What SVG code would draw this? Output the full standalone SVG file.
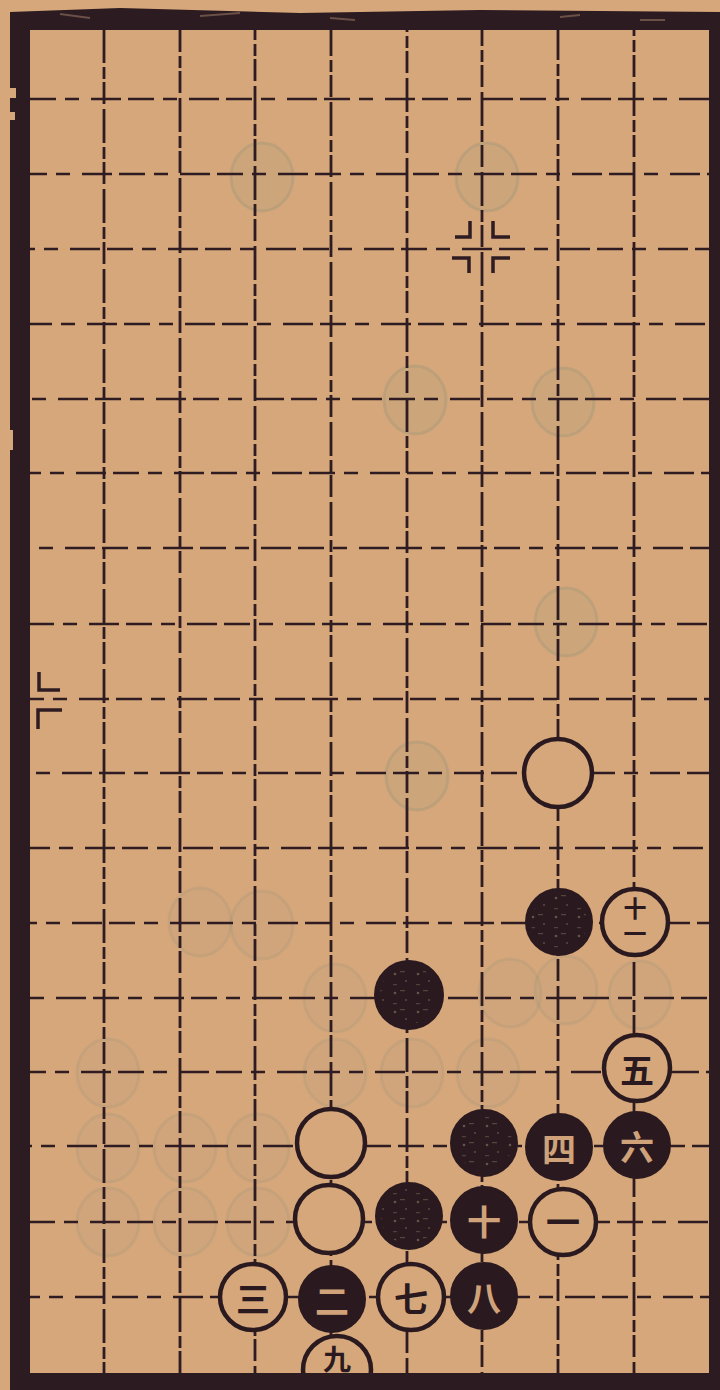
<svg xmlns="http://www.w3.org/2000/svg" width="720" height="1390" viewBox="0 0 720 1390">
<style>
.bg{fill:#d6a77a}
.v{stroke:#2e1c22;stroke-width:2.8;fill:none;stroke-dasharray:34 4 12 3 22 5}
.h{stroke:#2e1c22;stroke-width:2.6;fill:none;stroke-dasharray:26 9 14 12 30 7}
.frame{fill:#2c1b21}
.ghost{fill:#9f9a84;fill-opacity:0.14;stroke:#8f937c;stroke-opacity:0.3;stroke-width:3}
.ghost2{fill:#9f9a84;fill-opacity:0.09;stroke:#8f937c;stroke-opacity:0.2;stroke-width:3}
.w{fill:#d6a77a;stroke:#2a1a20;stroke-width:4.5}
.b{fill:#2a1a20;stroke:#2a1a20;stroke-width:2}
.speck{fill:url(#speck)}
.mark{stroke:#2e1c22;stroke-width:3.5;fill:none}
.lw{font-family:"Noto Sans CJK SC","Noto Sans CJK JP",sans-serif;font-weight:bold;font-size:34px;fill:#2a1a20;text-anchor:middle;dominant-baseline:central}
.lb{font-family:"Noto Sans CJK SC","Noto Sans CJK JP",sans-serif;font-weight:bold;font-size:34px;fill:#cfa27a;text-anchor:middle;dominant-baseline:central}
.vert{writing-mode:vertical-rl;text-orientation:upright;font-size:23px;letter-spacing:2px}
</style>
<defs>
<pattern id="speck" width="23" height="19" patternUnits="userSpaceOnUse">
<circle cx="4" cy="5" r="1.3" fill="#8a7a62" fill-opacity="0.6"/>
<circle cx="15" cy="12" r="1" fill="#8a7a62" fill-opacity="0.5"/>
<rect x="9" y="2" width="5" height="1.2" fill="#8a7a62" fill-opacity="0.45"/>
<rect x="2" y="15" width="4" height="1.2" fill="#8a7a62" fill-opacity="0.4"/>
</pattern>
</defs>
<rect class="bg" x="0" y="0" width="720" height="1390"/>

<g id="ghosts">
<ellipse class="ghost" cx="262" cy="177" rx="31" ry="34"/>
<ellipse class="ghost" cx="487" cy="177" rx="31" ry="34"/>
<ellipse class="ghost" cx="415" cy="400" rx="31" ry="34"/>
<ellipse class="ghost" cx="563" cy="402" rx="31" ry="34"/>
<ellipse class="ghost" cx="566" cy="622" rx="31" ry="34"/>
<ellipse class="ghost" cx="417" cy="776" rx="31" ry="34"/>
<ellipse class="ghost2" cx="200" cy="922" rx="31" ry="34"/>
<ellipse class="ghost2" cx="262" cy="925" rx="31" ry="34"/>
<ellipse class="ghost2" cx="335" cy="998" rx="31" ry="34"/>
<ellipse class="ghost2" cx="510" cy="993" rx="31" ry="34"/>
<ellipse class="ghost2" cx="566" cy="990" rx="31" ry="34"/>
<ellipse class="ghost2" cx="640" cy="995" rx="31" ry="34"/>
<ellipse class="ghost2" cx="108" cy="1073" rx="31" ry="34"/>
<ellipse class="ghost2" cx="335" cy="1073" rx="31" ry="34"/>
<ellipse class="ghost2" cx="412" cy="1073" rx="31" ry="34"/>
<ellipse class="ghost2" cx="488" cy="1073" rx="31" ry="34"/>
<ellipse class="ghost2" cx="108" cy="1148" rx="31" ry="34"/>
<ellipse class="ghost2" cx="185" cy="1148" rx="31" ry="34"/>
<ellipse class="ghost2" cx="258" cy="1148" rx="31" ry="34"/>
<ellipse class="ghost2" cx="108" cy="1222" rx="31" ry="34"/>
<ellipse class="ghost2" cx="185" cy="1222" rx="31" ry="34"/>
<ellipse class="ghost2" cx="258" cy="1222" rx="31" ry="34"/>
</g>

<g id="grid">
<line class="v" x1="104" y1="29" x2="104" y2="1373"/>
<line class="v" x1="180" y1="29" x2="180" y2="1373" stroke-dashoffset="11"/>
<line class="v" x1="255" y1="29" x2="255" y2="1373" stroke-dashoffset="23"/>
<line class="v" x1="331" y1="29" x2="331" y2="1373" stroke-dashoffset="7"/>
<line class="v" x1="407" y1="29" x2="407" y2="1373" stroke-dashoffset="31"/>
<line class="v" x1="482" y1="29" x2="482" y2="1373" stroke-dashoffset="17"/>
<line class="v" x1="558" y1="29" x2="558" y2="1373" stroke-dashoffset="3"/>
<line class="v" x1="634" y1="29" x2="634" y2="1373" stroke-dashoffset="27"/>
<line class="h" x1="30" y1="99" x2="709" y2="99"/>
<line class="h" x1="30" y1="174" x2="709" y2="174" stroke-dashoffset="9"/>
<line class="h" x1="30" y1="249" x2="709" y2="249" stroke-dashoffset="21"/>
<line class="h" x1="30" y1="324" x2="709" y2="324" stroke-dashoffset="4"/>
<line class="h" x1="30" y1="399" x2="709" y2="399" stroke-dashoffset="33"/>
<line class="h" x1="30" y1="473" x2="709" y2="473" stroke-dashoffset="15"/>
<line class="h" x1="30" y1="548" x2="709" y2="548" stroke-dashoffset="26"/>
<line class="h" x1="30" y1="624" x2="709" y2="624" stroke-dashoffset="2"/>
<line class="h" x1="30" y1="699" x2="709" y2="699" stroke-dashoffset="12"/>
<line class="h" x1="30" y1="773" x2="709" y2="773" stroke-dashoffset="29"/>
<line class="h" x1="30" y1="848" x2="709" y2="848" stroke-dashoffset="6"/>
<line class="h" x1="30" y1="923" x2="709" y2="923" stroke-dashoffset="19"/>
<line class="h" x1="30" y1="998" x2="709" y2="998" stroke-dashoffset="35"/>
<line class="h" x1="30" y1="1072" x2="709" y2="1072" stroke-dashoffset="10"/>
<line class="h" x1="30" y1="1146" x2="709" y2="1146" stroke-dashoffset="24"/>
<line class="h" x1="30" y1="1222" x2="709" y2="1222" stroke-dashoffset="1"/>
<line class="h" x1="30" y1="1297" x2="709" y2="1297" stroke-dashoffset="16"/>
</g>

<g id="star-marks">
<path class="mark" d="M455 237 H470 V221"/>
<path class="mark" d="M493 221 V237 H510"/>
<path class="mark" d="M452 258 H469 V273"/>
<path class="mark" d="M493 273 V258 H510"/>
<path class="mark" d="M39 672 V690 H60"/>
<path class="mark" d="M38 729 V710 H62"/>
</g>

<g id="stone-w-1">
<circle class="w" cx="558" cy="773" r="34"/>
</g>
<g id="stone-b-1">
<circle class="b" cx="559" cy="922" r="33"/>
<circle class="speck" cx="559" cy="922" r="28"/>
</g>
<g id="stone-w-11">
<circle class="w" cx="635" cy="922" r="33"/>
<text class="lw vert" x="635" y="922">十一</text>
</g>
<g id="stone-b-2">
<circle class="b" cx="409" cy="995" r="34"/>
<circle class="speck" cx="409" cy="995" r="29"/>
</g>
<g id="stone-w-5">
<circle class="w" cx="637" cy="1068" r="33"/>
<text class="lw" x="637" y="1068">五</text>
</g>
<g id="stone-w-2">
<circle class="w" cx="331" cy="1143" r="34"/>
</g>
<g id="stone-b-3">
<circle class="b" cx="484" cy="1143" r="33"/>
<circle class="speck" cx="484" cy="1143" r="28"/>
</g>
<g id="stone-b-4">
<circle class="b" cx="559" cy="1147" r="33"/>
<text class="lb" x="559" y="1147">四</text>
</g>
<g id="stone-b-6">
<circle class="b" cx="637" cy="1145" r="33"/>
<text class="lb" x="637" y="1145">六</text>
</g>
<g id="stone-w-3">
<circle class="w" cx="329" cy="1219" r="34"/>
</g>
<g id="stone-b-5">
<circle class="b" cx="409" cy="1216" r="33"/>
<circle class="speck" cx="409" cy="1216" r="28"/>
</g>
<g id="stone-b-10">
<circle class="b" cx="484" cy="1220" r="33"/>
<text class="lb" x="484" y="1220">十</text>
</g>
<g id="stone-w-one">
<circle class="w" cx="563" cy="1222" r="33"/>
<text class="lw" x="563" y="1220">一</text>
</g>
<g id="stone-w-three">
<circle class="w" cx="253" cy="1297" r="33"/>
<text class="lw" x="253" y="1297">三</text>
</g>
<g id="stone-b-two">
<circle class="b" cx="332" cy="1299" r="33"/>
<text class="lb" x="332" y="1299">二</text>
</g>
<g id="stone-w-seven">
<circle class="w" cx="411" cy="1297" r="33"/>
<text class="lw" x="411" y="1297">七</text>
</g>
<g id="stone-b-eight">
<circle class="b" cx="484" cy="1296" r="33"/>
<text class="lb" x="484" y="1296">八</text>
</g>
<g id="stone-w-nine">
<circle class="w" cx="337" cy="1370" r="34"/>
<text class="lw" x="337" y="1358" style="font-size:28px">九</text>
</g>

<g id="frame">
<path class="frame" d="M10 12 L120 8 L300 13 L480 10 L720 12 L720 30 L30 30 L30 1373 L709 1373 L709 30 L720 30 L720 1390 L10 1390 Z"/>
<path class="bg" d="M10 88 h6 v10 h-6 z M10 112 h5 v8 h-5 z M10 430 h3 v20 h-3 z"/>
<path d="M60 14 l30 4 M200 16 l40 -3 M330 18 l25 2 M560 17 l20 -2 M640 20 l25 0" stroke="#6b5048" stroke-width="2" fill="none"/>
</g>
</svg>
